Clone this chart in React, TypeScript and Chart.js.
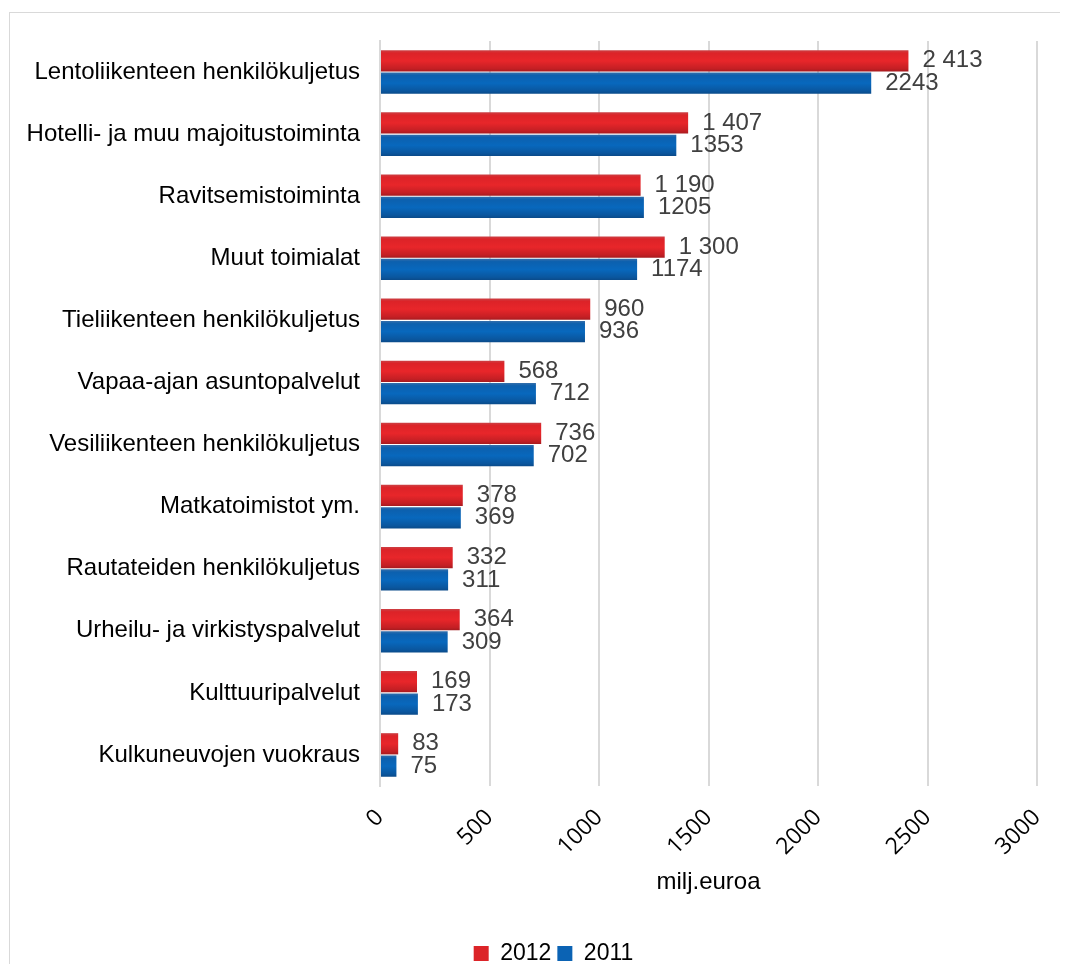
import React, { useEffect, useRef } from "react";
import { Chart, registerables } from "chart.js";

Chart.register(...registerables);

const categories = [
  "Lentoliikenteen henkilökuljetus",
  "Hotelli- ja muu majoitustoiminta",
  "Ravitsemistoiminta",
  "Muut toimialat",
  "Tieliikenteen henkilökuljetus",
  "Vapaa-ajan asuntopalvelut",
  "Vesiliikenteen henkilökuljetus",
  "Matkatoimistot ym.",
  "Rautateiden henkilökuljetus",
  "Urheilu- ja virkistyspalvelut",
  "Kulttuuripalvelut",
  "Kulkuneuvojen vuokraus",
];

const values2012 = [2413, 1407, 1190, 1300, 960, 568, 736, 378, 332, 364, 169, 83];
const values2011 = [2243, 1353, 1205, 1174, 936, 712, 702, 369, 311, 309, 173, 75];

const seriesNames = ["2012", "2011"];
const xTickMin = 0;
const xTickMax = 3000;
const xTickStep = 500;
const xTitle = "milj.euroa";

const ARIAL = "'Liberation Sans', Arial, sans-serif";

const redStops = ["#c8464a", "#dc2328", "#e8262a", "#c41f24", "#a01a1e"];
const blueStops = ["#3d72aa", "#0c60ae", "#0868bd", "#0a569e", "#0a4885"];
const legendColors = ["#dc2428", "#0b63b4"];

function formatSpace(v: number) {
  return String(v).replace(/\B(?=(\d{3})+(?!\d))/g, " ");
}

function makeBg(stops: string[], dsIndex: number) {
  return (ctx: any) => {
    const chart = ctx.chart;
    const yScale = chart.scales?.y;
    if (ctx.dataIndex === undefined || !yScale || !chart.chartArea) return stops[2];
    const center = yScale.getPixelForValue(ctx.dataIndex);
    const slot = (yScale.height / categories.length) * 0.72;
    const half = slot / 2;
    const top = dsIndex === 0 ? center - half : center;
    const bottom = top + half;
    const g = chart.ctx.createLinearGradient(0, top, 0, bottom);
    g.addColorStop(0, stops[0]);
    g.addColorStop(0.15, stops[1]);
    g.addColorStop(0.5, stops[2]);
    g.addColorStop(0.85, stops[3]);
    g.addColorStop(1, stops[4]);
    return g;
  };
}

const dataLabelPlugin = {
  id: "dataLabels",
  afterDatasetsDraw(chart: any) {
    const ctx = chart.ctx;
    ctx.save();
    ctx.font = `24px ${ARIAL}`;
    ctx.fillStyle = "#404040";
    ctx.textAlign = "left";
    ctx.textBaseline = "middle";
    chart.data.datasets.forEach((ds: any, di: number) => {
      const meta = chart.getDatasetMeta(di);
      meta.data.forEach((el: any, i: number) => {
        const v = ds.data[i];
        const txt = di === 0 ? formatSpace(v) : String(v);
        ctx.fillText(txt, el.x + 14, el.y);
      });
    });
    ctx.restore();
  },
};

const legendShiftPlugin = {
  id: "legendShift",
  afterLayout(chart: any) {
    const lg = chart.legend;
    if (!lg) return;
    lg.left += 30;
    lg.right += 30;
    lg.top += 4;
    lg.bottom += 4;
  },
};

export default function App() {
  const canvasRef = useRef<HTMLCanvasElement | null>(null);

  useEffect(() => {
    if (!canvasRef.current) return;
    const chart = new Chart(canvasRef.current, {
      type: "bar",
      data: {
        labels: categories,
        datasets: [
          {
            label: seriesNames[0],
            data: values2012,
            backgroundColor: makeBg(redStops, 0),
            borderWidth: 0,
            barPercentage: 0.95,
            categoryPercentage: 0.72,
          },
          {
            label: seriesNames[1],
            data: values2011,
            backgroundColor: makeBg(blueStops, 1),
            borderWidth: 0,
            barPercentage: 0.95,
            categoryPercentage: 0.72,
          },
        ],
      },
      options: {
        indexAxis: "y",
        animation: false,
        responsive: true,
        maintainAspectRatio: false,
        layout: { padding: { top: 28, right: 61, left: 0, bottom: 0 } },
        plugins: {
          legend: {
            position: "bottom",
            labels: {
              font: { family: ARIAL, size: 23 },
              color: "#000",
              boxWidth: 15,
              boxHeight: 15,
              padding: 6,
              generateLabels: (chart: any) => {
                const items = Chart.defaults.plugins.legend.labels.generateLabels(chart);
                items.forEach((it: any, i: number) => {
                  it.fillStyle = legendColors[i];
                  it.strokeStyle = legendColors[i];
                  it.lineWidth = 0;
                });
                return items;
              },
            },
          },
          tooltip: { enabled: false },
        },
        scales: {
          x: {
            min: xTickMin,
            max: xTickMax,
            ticks: {
              stepSize: xTickStep,
              minRotation: 45,
              maxRotation: 45,
              padding: 18,
              color: "#000",
              font: { family: "'Open Sans', sans-serif", size: 23 },
              callback: (v: any) => String(v),
            },
            grid: { color: "#d9d9d9", lineWidth: 2, drawTicks: false },
            border: { display: false },
            title: {
              display: true,
              text: xTitle,
              color: "#000",
              font: { family: ARIAL, size: 24 },
              padding: { top: 0, bottom: 35 },
            },
            afterFit: (s: any) => {
              s.height = 146;
            },
          },
          y: {
            ticks: {
              color: "#000",
              padding: 20,
              font: { family: ARIAL, size: 24 },
            },
            grid: { display: false, drawTicks: false },
            border: { display: true, color: "#d9d9d9", width: 2 },
            afterFit: (s: any) => {
              s.width = 370;
              s.paddingTop = 0;
              s.paddingBottom = 0;
            },
          },
        },
      },
      plugins: [dataLabelPlugin, legendShiftPlugin],
    });
    return () => chart.destroy();
  }, []);

  return (
    <div style={{ position: "relative", width: 1060, height: 956, overflow: "hidden" }}>
      <div
        style={{
          position: "absolute",
          left: 1,
          top: 4,
          width: 1090,
          height: 1000,
          border: "1px solid #d9d9d9",
          boxSizing: "border-box",
          background: "#fff",
        }}
      >
        <div style={{ position: "relative", width: 1088, height: 958 }}>
          <canvas ref={canvasRef} />
        </div>
      </div>
    </div>
  );
}
